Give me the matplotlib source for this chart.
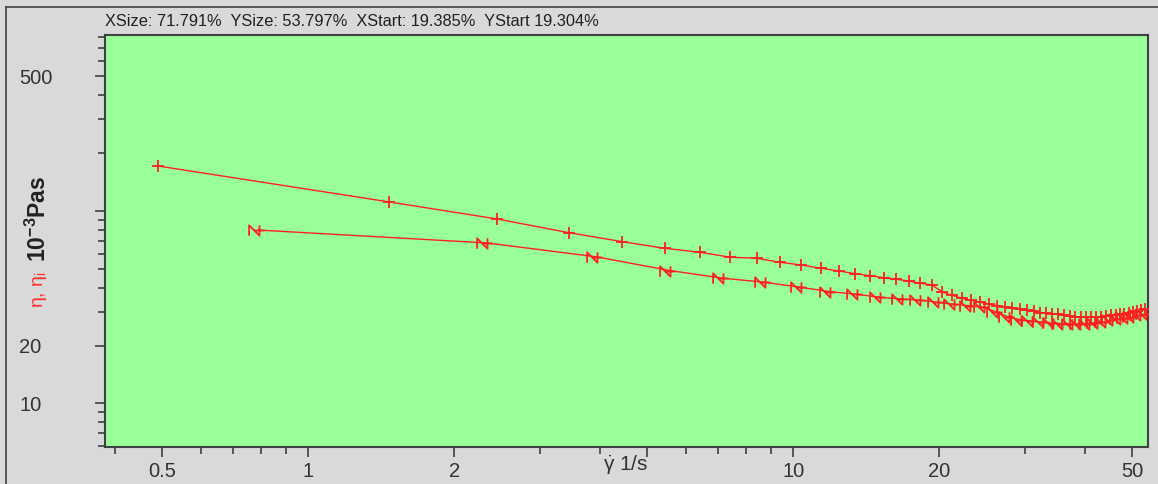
import matplotlib
matplotlib.use("Agg")
import matplotlib.pyplot as plt
from matplotlib.path import Path
from matplotlib.lines import Line2D
from matplotlib.ticker import FixedLocator, NullFormatter, FixedFormatter

plt.rcParams['font.family'] = ['Liberation Sans', 'DejaVu Sans']
plt.rcParams['mathtext.fontset'] = 'custom'
plt.rcParams['mathtext.rm'] = 'Liberation Sans'
plt.rcParams['mathtext.it'] = 'Liberation Sans'
plt.rcParams['mathtext.bf'] = 'Liberation Sans:bold'

# ---- data ----
shear_up = [0.49, 1.47, 2.45, 3.45, 4.44, 5.43, 6.43, 7.42, 8.41, 9.40, 10.4, 11.4,
            12.4, 13.4, 14.4, 15.4, 16.3, 17.3, 18.3, 19.3, 20.3, 21.3, 22.3, 23.3,
            24.3, 25.3, 26.3, 27.3, 28.3, 29.3, 30.3, 31.3, 32.3, 33.2, 34.2, 35.2,
            36.2, 37.2, 38.2, 39.2, 40.2, 41.2, 42.2, 43.2, 44.2, 45.2, 46.2, 47.2,
            48.2, 49.2, 50.2, 51.2, 52.2, 53.2]
eta_up = [171.3, 111.4, 90.9, 77.1, 69.3, 64.0, 61.0, 57.5, 56.8, 54.1, 52.4, 50.4,
          48.8, 47.3, 46.1, 45.0, 44.2, 43.3, 42.1, 41.3, 38.0, 36.4, 35.2, 34.3,
          33.6, 32.9, 32.2, 31.7, 31.2, 31.0, 30.6, 30.1, 29.6, 29.5, 29.3, 29.0,
          28.8, 28.5, 28.3, 28.1, 28.1, 28.1, 28.1, 28.1, 28.4, 28.7, 28.9, 29.2,
          29.3, 29.5, 29.8, 30.2, 30.6, 31.0]

shear_dn = [0.79, 2.34, 3.94, 5.58, 7.18, 8.76, 10.37, 11.92, 13.53, 15.12, 16.75,
            18.28, 19.9, 21.5, 23.1, 24.7, 26.3, 27.9, 29.5, 31.1, 32.7, 34.3, 35.9,
            37.5, 39.1, 40.7, 42.3, 43.9, 45.5, 47.1, 48.7, 50.3, 51.9, 53.5]
eta_dn = [79.6, 68.2, 57.7, 49.0, 44.7, 42.6, 40.1, 38.1, 36.9, 35.6, 34.9,
          34.4, 33.5, 32.7, 32.2, 31.6, 29.8, 28.0, 27.2, 26.8, 26.4, 26.1, 26.0,
          25.9, 25.9, 26.0, 26.2, 26.5, 27.0, 27.5, 27.8, 28.1, 28.7, 29.2]

x_major = [0.5, 1, 2, 5, 10, 20, 50]
x_major_labels = ['0.5', '1', '2', '', '10', '20', '50']
x_minor = [0.4, 0.6, 0.7, 0.8, 0.9, 3, 4, 6, 7, 8, 9, 30, 40]
y_major = [10, 20, 100, 500]
y_major_labels = ['10', '20', '', '500']
y_minor = [6, 7, 8, 9, 30, 40, 50, 60, 70, 80, 90, 200, 300, 400, 600, 700, 800]

header = "XSize: 71.791%  YSize: 53.797%  XStart: 19.385%  YStart 19.304%"

# ---- figure ----
W, H = 1158, 484
fig = plt.figure(figsize=(W / 100, H / 100), dpi=100, facecolor='#d9d9d9')
L, R, T, B = 105, 1148, 35, 447
ax = fig.add_axes([L / W, 1 - B / H, (R - L) / W, (B - T) / H])
ax.set_facecolor('#99ff99')
ax.set_xscale('log')
ax.set_yscale('log')
ax.set_xlim(0.381, 53.9)
ax.set_ylim(5.94, 821)

red = '#ff2020'
ax.plot(shear_up, eta_up, color=red, lw=1.0, marker='+', ms=8, mew=1.3,
        mec=red, zorder=3)

nverts = [(-2, -1), (-2, 1), (0, -1), (0, 1), (-1, 0), (1, 0)]
ncodes = [Path.MOVETO, Path.LINETO, Path.LINETO, Path.LINETO, Path.MOVETO, Path.LINETO]
nmark = Path(nverts, ncodes)
ax.plot(shear_dn, eta_dn, color=red, lw=1.0, marker=nmark, ms=15, mew=1.3,
        mec=red, mfc='none', zorder=3)

# ticks
ax.xaxis.set_major_locator(FixedLocator(x_major))
ax.xaxis.set_major_formatter(FixedFormatter(x_major_labels))
ax.xaxis.set_minor_locator(FixedLocator(x_minor))
ax.xaxis.set_minor_formatter(NullFormatter())

ax.yaxis.set_major_locator(FixedLocator(y_major))
ax.yaxis.set_major_formatter(FixedFormatter(y_major_labels))
ax.yaxis.set_minor_locator(FixedLocator(y_minor))
ax.yaxis.set_minor_formatter(NullFormatter())

tc = '#333333'
ax.tick_params(axis='both', which='major', direction='out', length=7, width=1.2,
               color='#404040', labelsize=14.5, labelcolor=tc)
ax.tick_params(axis='both', which='minor', direction='out', length=5, width=1.2,
               color='#404040')
ax.tick_params(axis='x', which='both', pad=4)
# left-aligned y tick labels starting at x ~ 22 px
ax.tick_params(axis='y', which='major', pad=(105 - 7 - 22) * 0.72)
for lab in ax.get_yticklabels():
    lab.set_horizontalalignment('left')

for s in ax.spines.values():
    s.set_color('#404040')
    s.set_linewidth(1.5)

# x label
fig.text(626 / W, 1 - 465 / H, r'$\dot{\gamma}$ 1/s', ha='center', va='center',
         fontsize=15, color=tc)

# y label (red eta part + black unit part)
fig.text(40 / W, 1 - 308 / H, r'$\eta$, $\eta_{i}$', rotation=90, ha='center',
         va='bottom', fontsize=14, color='#ff3030')
fig.text(38 / W, 1 - 262 / H, r'10$^{\mathbf{-3}}$Pas', rotation=90, ha='center',
         va='bottom', fontsize=16.5, color='#222222', fontweight='bold')

# header
fig.text(105 / W, 1 - 21 / H, header, ha='left', va='center', fontsize=11.8,
         color='#202020')

# frame lines
fig.add_artist(Line2D([6 / W, 6 / W], [0, 1 - 7 / H], color='#404040', lw=1.2,
                      transform=fig.transFigure))
fig.add_artist(Line2D([6 / W, 1], [1 - 7 / H, 1 - 7 / H], color='#404040', lw=1.2,
                      transform=fig.transFigure))

fig.savefig('out.png', dpi=100, facecolor=fig.get_facecolor())
